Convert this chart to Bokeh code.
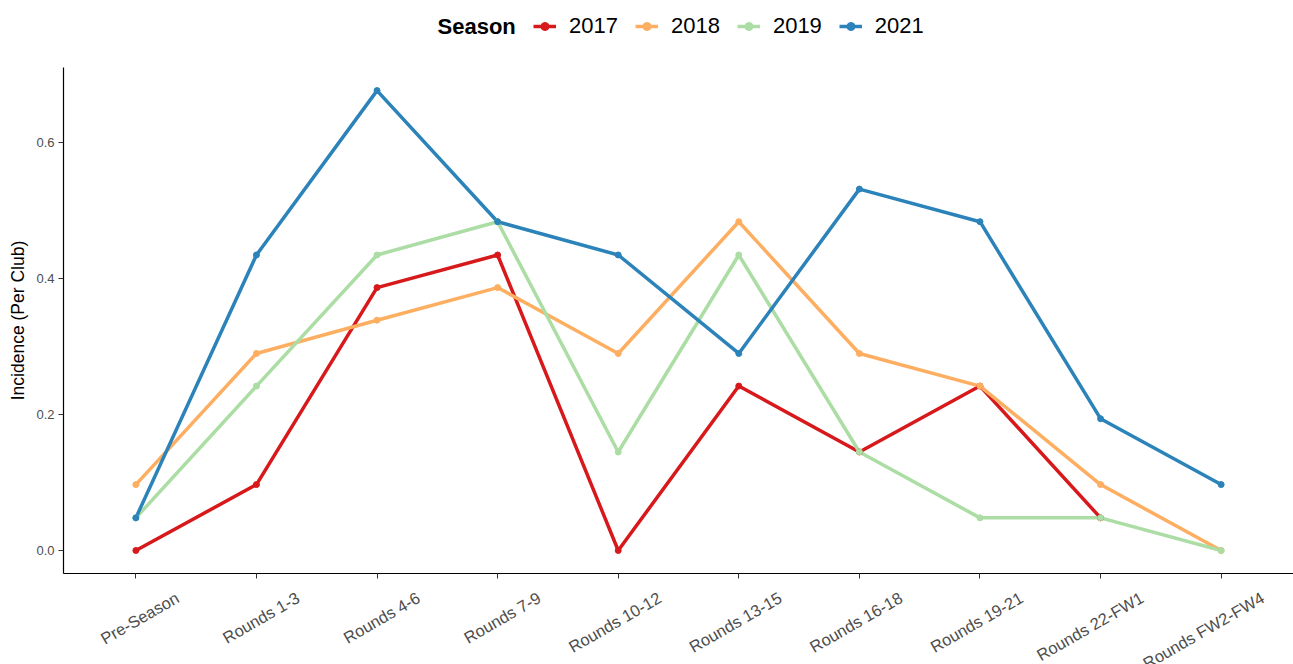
import math
from bokeh.plotting import figure
from bokeh.layouts import column
from bokeh.core.properties import value
from bokeh.models import (FactorRange, Range1d, FixedTicker, NumeralTickFormatter,
                          Legend, LegendItem, Label, ColumnDataSource)
from bokeh.embed import file_html
from bokeh.resources import INLINE

cats = ["Pre-Season", "Rounds 1-3", "Rounds 4-6", "Rounds 7-9", "Rounds 10-12",
        "Rounds 13-15", "Rounds 16-18", "Rounds 19-21", "Rounds 22-FW1", "Rounds FW2-FW4"]
seasons = ["2017", "2018", "2019", "2021"]
s2017 = [0.000, 0.097, 0.387, 0.435, 0.000, 0.242, 0.145, 0.242, 0.048]
s2018 = [0.097, 0.290, 0.339, 0.387, 0.290, 0.484, 0.290, 0.242, 0.097, 0.000]
s2019 = [0.048, 0.242, 0.435, 0.484, 0.145, 0.435, 0.145, 0.048, 0.048, 0.000]
s2021 = [0.048, 0.435, 0.677, 0.484, 0.435, 0.290, 0.532, 0.484, 0.194, 0.097]
colors = ["#D7191C", "#FDAE61", "#ABDDA4", "#2B83BA"]
y_ticks = [0.0, 0.2, 0.4, 0.6]

FONT = "Liberation Sans"
W = 1293
HEAD_H = 67
MAIN_H = 518
LAB_H = 664 - HEAD_H - MAIN_H
LINE_W = 3.5
PT_SIZE = 6
TICK_GREY = "#4D4D4D"

x_range = FactorRange(*cats, range_padding=0.1, range_padding_units="absolute")

# ---------------- main plot ----------------
p = figure(width=W, height=MAIN_H, x_range=x_range,
           y_range=Range1d(-0.0339, 0.711),
           output_backend="svg", toolbar_location=None,
           min_border_left=63, min_border_right=0, min_border_top=0, min_border_bottom=12)
p.outline_line_color = None
p.xgrid.visible = False
p.ygrid.visible = False

all_series = [s2017, s2018, s2019, s2021]
srcs = []
for vals, col in zip(all_series, colors):
    src = ColumnDataSource(dict(x=cats[:len(vals)], y=vals))
    srcs.append(src)
    p.line("x", "y", source=src, line_color=col, line_width=LINE_W)
for src, col in zip(srcs, colors):
    p.scatter("x", "y", source=src, size=PT_SIZE, fill_color=col, line_color=col)

for ax in (p.xaxis[0], p.yaxis[0]):
    ax.axis_line_color = "black"
    ax.axis_line_width = 1.2
    ax.major_tick_line_color = "#333333"
    ax.major_tick_in = 0
    ax.major_tick_out = 5
    ax.minor_tick_line_color = None
    ax.major_label_text_color = TICK_GREY
    ax.major_label_text_font = FONT

# x tick labels are drawn (rotated, ggplot-style) in the strip below
p.xaxis.major_label_text_font_size = "1px"
p.xaxis.major_label_text_alpha = 0
p.xaxis.major_label_standoff = 0
p.yaxis.ticker = FixedTicker(ticks=y_ticks)
p.yaxis.formatter = NumeralTickFormatter(format="0.0")
p.yaxis.major_label_text_font_size = "13px"
p.yaxis.major_label_standoff = 4
p.yaxis.axis_label = "Incidence (Per Club)"
p.yaxis.axis_label_text_font = FONT
p.yaxis.axis_label_text_font_size = "17.5px"
p.yaxis.axis_label_text_font_style = "normal"
p.yaxis.axis_label_text_color = "black"
p.yaxis.axis_label_standoff = 5

# ---------------- rotated category labels ----------------
lab = figure(width=W, height=LAB_H, x_range=x_range, y_range=Range1d(0, 1),
             x_axis_type=None, y_axis_type=None, output_backend="svg",
             toolbar_location=None, min_border=0)
lab.outline_line_color = None
lab.xgrid.visible = False
lab.ygrid.visible = False
lab.text(x=cats, y=[1] * len(cats), text=cats, angle=math.pi / 6,
         text_align="right", text_baseline="top", x_offset=37, y_offset=3,
         text_font=value(FONT), text_font_size=value("16.5px"), text_color=TICK_GREY)

# ---------------- legend header ----------------
h = figure(width=W, height=HEAD_H, x_range=Range1d(0, 1), y_range=Range1d(0, 1),
           x_axis_type=None, y_axis_type=None, output_backend="svg",
           toolbar_location=None, min_border=0)
h.outline_line_color = None
h.xgrid.visible = False
h.ygrid.visible = False
items = []
nan = float("nan")
for col, name in zip(colors, seasons):
    # key-only renderers (no visible data) so the legend can draw line + point swatches
    lr = h.line(x=[nan], y=[nan], line_color=col, line_width=LINE_W)
    sr = h.scatter(x=[nan], y=[nan], size=PT_SIZE, fill_color=col, line_color=col)
    items.append(LegendItem(label=name, renderers=[lr, sr]))
legend = Legend(items=items, orientation="horizontal", location=(470, 28),
                glyph_width=23, glyph_height=20, label_standoff=13, spacing=17,
                padding=0, margin=0, border_line_color=None, background_fill_alpha=0,
                label_text_font=FONT, label_text_font_size="22px",
                label_text_color="black")
h.add_layout(legend, "center")
h.add_layout(Label(x=374, y=41, x_units="screen", y_units="screen", text="Season",
                   text_font=FONT, text_font_style="bold", text_font_size="22px",
                   text_baseline="middle", text_color="black"))

layout = column(h, p, lab, spacing=0)
open("out.html", "w").write(file_html(layout, INLINE))
